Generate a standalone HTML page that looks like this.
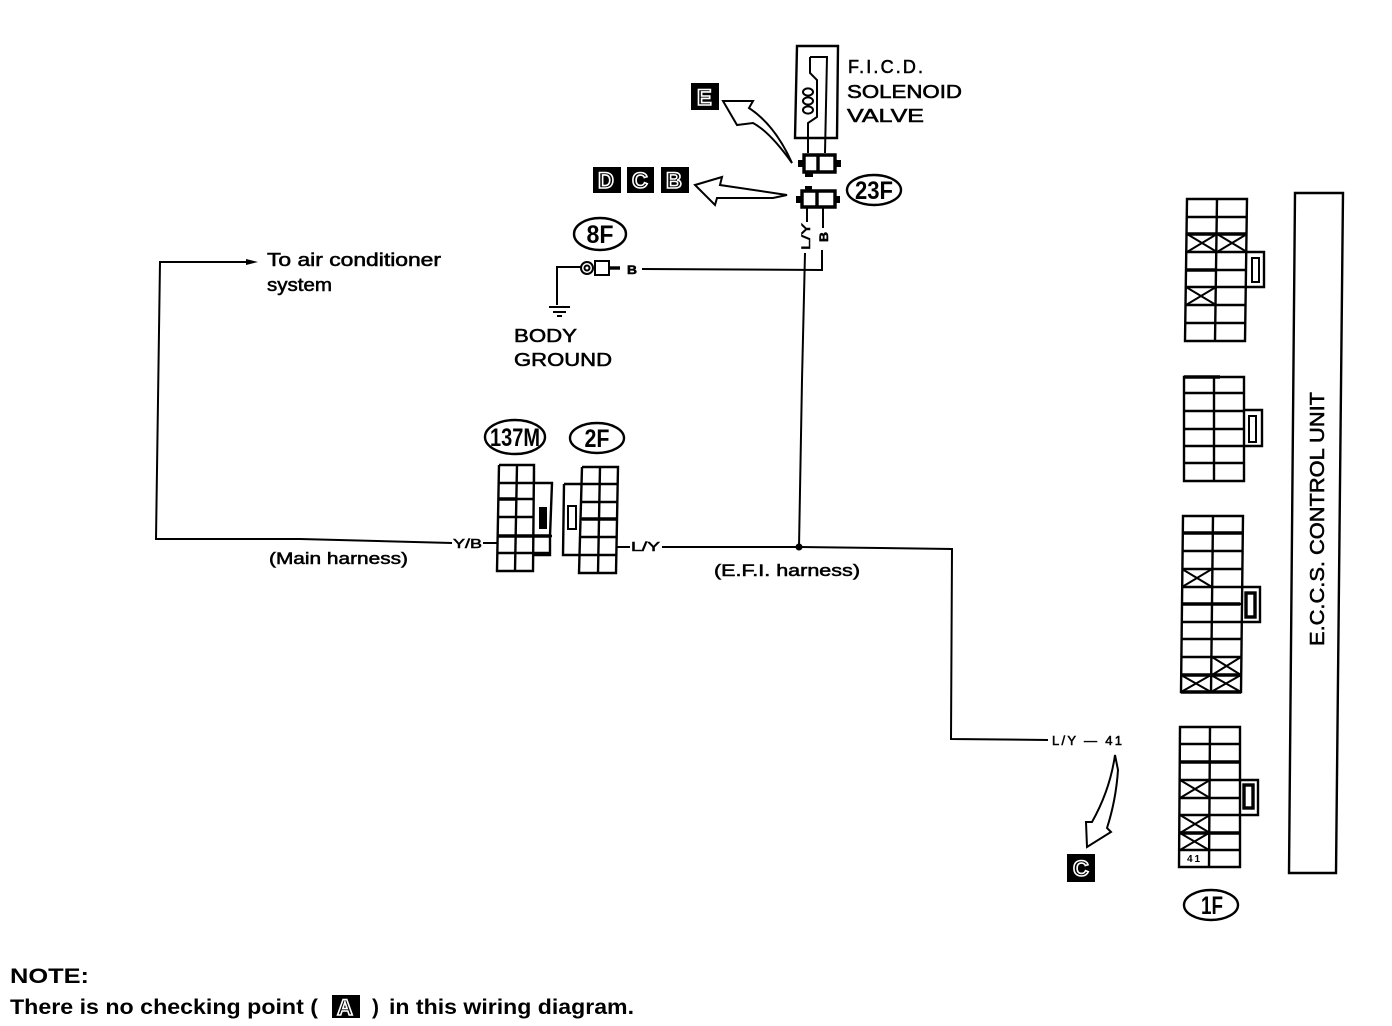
<!DOCTYPE html>
<html>
<head>
<meta charset="utf-8">
<style>
html,body{margin:0;padding:0;background:#fff;width:1392px;height:1026px;overflow:hidden}
svg{display:block}
text{font-family:"Liberation Sans",sans-serif;fill:#000}
.l{fill:none;stroke:#000;stroke-width:2.4}
.w{fill:none;stroke:#000;stroke-width:2}
.t{fill:none;stroke:#000;stroke-width:3.4}
.s{stroke:#000;stroke-width:.55}
.o{fill:#000!important;stroke:#fff;stroke-width:1.6;font-weight:bold}
</style>
</head>
<body>
<svg width="1392" height="1026" viewBox="0 0 1392 1026" xmlns="http://www.w3.org/2000/svg">
<rect width="1392" height="1026" fill="#fff"/>

<!-- wires -->
<path class="w" d="M250 262H160L156 539H300L452 543"/>
<path d="M258 262l-12-3v6z"/>
<path class="w" d="M483 543H497M617 547H630M662 547H800L952 549L951 739L1048 740"/>
<path class="w" d="M805 253L802 380L799 547"/>
<path class="w" d="M642 269L822 270V250"/>
<circle cx="799" cy="547" r="3.5"/>
<path class="w" d="M582 267H557V305M549 307H570M553 312H566M557 316H562"/>

<!-- solenoid -->
<path class="l" d="M797 46H838L837 138H795Z"/>
<path class="w" d="M810 57H827L825 153M810 57V73L817 80V117L808 123V153"/>
<g class="w"><ellipse cx="808" cy="92" rx="5" ry="3.6"/><ellipse cx="808" cy="101" rx="5" ry="3.6"/><ellipse cx="808" cy="110" rx="5" ry="3.6"/></g>
<path class="t" d="M804 155H835V172H804ZM818 155V172"/>
<path d="M798 160h6v7h-6zM835 160h6v7h-6zM805 172h8v5h-8z"/>
<path class="t" d="M802 191H835V207H802ZM817 191V207"/>
<path d="M796 196h6v7h-6zM835 196h5v7h-5zM805 186h7v5h-7z"/>
<path class="w" d="M807 207V222M823 207V228"/>

<!-- 8F plug -->
<circle class="w" cx="587" cy="268" r="6"/>
<circle class="w" cx="587" cy="268" r="2.5"/>
<rect class="w" x="595" y="261" width="14" height="14"/>
<path class="t" d="M609 268H620"/>

<!-- hollow arrows -->
<path class="w" d="M723 101H753L749 108Q775 125 792 163Q770 132 753 123L737 125Z"/>
<path class="w" d="M695 185L722 177L720 185L787 195L773 198H717L715 205Z"/>
<path class="w" d="M1115 755L1118 770Q1116 800 1107 828L1111 832L1087 847L1086 822H1092Q1110 790 1115 755Z"/>

<!-- letter boxes -->
<rect x="691" y="83" width="28" height="27"/>
<rect x="593" y="167" width="28" height="26"/>
<rect x="627" y="167" width="27" height="26"/>
<rect x="661" y="167" width="28" height="26"/>
<rect x="1067" y="854" width="28" height="28"/>
<rect x="332" y="995" width="28" height="23"/>
<text class="o" x="697" y="105" font-size="22">E</text>
<text class="o" x="598" y="188" font-size="22">D</text>
<text class="o" x="632" y="188" font-size="22">C</text>
<text class="o" x="666" y="188" font-size="22">B</text>
<text class="o" x="1073" y="876" font-size="22">C</text>
<text class="o" x="337" y="1015" font-size="22">A</text>

<!-- ovals -->
<g class="l">
<ellipse cx="874" cy="190" rx="27" ry="15"/>
<ellipse cx="600" cy="234" rx="26" ry="16"/>
<ellipse cx="515" cy="437" rx="30" ry="17"/>
<ellipse cx="597" cy="438" rx="27" ry="15"/>
<ellipse cx="1211" cy="905" rx="27" ry="15"/>
</g>
<g font-weight="bold" font-size="25" text-anchor="middle">
<text x="874" y="199" textLength="38" lengthAdjust="spacingAndGlyphs">23F</text>
<text x="600" y="243" textLength="27" lengthAdjust="spacingAndGlyphs">8F</text>
<text x="515" y="446" textLength="50" lengthAdjust="spacingAndGlyphs">137M</text>
<text x="597" y="447" textLength="25" lengthAdjust="spacingAndGlyphs">2F</text>
<text x="1212" y="914" textLength="22" lengthAdjust="spacingAndGlyphs">1F</text>
</g>

<!-- 137M -->
<path class="l" d="M499 465H534V483M499 465L497 571H533L534 465M517 465L515 571M499 483H552L550 536V555H533M498 499H534M498 517H534M497 536H552M497 553H550"/>
<path class="t" d="M498 499H517M497 536H550"/>
<rect x="539" y="507" width="8" height="22"/>
<!-- 2F -->
<path class="l" d="M582 467H618L616 573H579L582 467M600 467L598 573M564 484H618M564 484L563 555H616M581 502H617M581 519H617M580 537H616"/>
<path class="t" d="M582 519H616"/>
<rect class="w" x="568" y="506" width="8" height="23"/>

<!-- ECU connector 1 -->
<path class="l" d="M1187 199H1247L1245 341H1185ZM1217 199L1215 341M1187 217H1247M1187 234H1247M1187 252H1247M1186 270H1246M1186 287H1246M1186 305H1246M1185 323H1245"/>
<path class="t" d="M1186 270H1217M1187 234H1247"/>
<path class="w" d="M1187 234L1217 252M1217 234L1187 252M1217 234L1247 252M1247 234L1217 252M1186 287L1216 305M1216 287L1186 305"/>
<path class="l" d="M1247 252H1264V287H1246"/>
<rect class="w" x="1252" y="258" width="7" height="24"/>

<!-- ECU connector 2 -->
<path class="l" d="M1184 377H1244V481H1184ZM1214 377V481M1184 393H1244M1184 411H1244M1184 429H1244M1184 446H1244M1184 463H1244"/>
<path class="t" d="M1184 377H1220"/>
<path class="l" d="M1244 410H1262V446H1244"/>
<rect class="w" x="1249" y="416" width="7" height="26"/>

<!-- ECU connector 3 -->
<path class="l" d="M1183 516H1243L1241 692H1181ZM1213 516L1211 692M1183 533H1243M1183 551H1243M1182 569H1243M1182 587H1242M1182 604H1242M1182 622H1242M1182 639H1242M1181 657H1241M1181 675H1241"/>
<path class="t" d="M1183 533H1243M1182 604H1240M1181 675H1241M1181 692H1241"/>
<path class="w" d="M1182 569L1212 587M1212 569L1182 587M1212 657L1241 675M1241 657L1212 675M1181 675L1211 692M1211 675L1181 692M1211 675L1241 692M1241 675L1211 692"/>
<path class="l" d="M1243 587H1260V622H1242"/>
<rect class="t" x="1246" y="593" width="9" height="24"/>

<!-- ECU connector 4 -->
<path class="l" d="M1180 727H1240V867H1179ZM1210 727L1209 867M1180 744H1240M1180 762H1240M1180 780H1240M1180 798H1240M1180 815H1240M1180 833H1239M1179 850H1239"/>
<path class="t" d="M1180 762H1240M1180 833H1239"/>
<path class="w" d="M1180 780L1210 798M1210 780L1180 798M1180 815L1210 833M1210 815L1180 833M1180 833L1209 850M1209 833L1180 850"/>
<path class="l" d="M1240 780H1258V815H1240"/>
<rect class="t" x="1244" y="785" width="9" height="23"/>
<text x="1187" y="862" font-size="10" font-weight="bold" textLength="13">41</text>

<!-- ECU box -->
<path class="l" d="M1295 193H1343L1336 873H1289Z"/>
<text transform="translate(1324 646) rotate(-90)" font-size="20" class="s" textLength="254" lengthAdjust="spacingAndGlyphs">E.C.C.S. CONTROL UNIT</text>

<!-- labels -->
<g class="s">
<text x="848" y="73" font-size="18" textLength="75">F.I.C.D.</text>
<text x="847" y="98" font-size="18" textLength="115" lengthAdjust="spacingAndGlyphs">SOLENOID</text>
<text x="847" y="122" font-size="18" textLength="77" lengthAdjust="spacingAndGlyphs">VALVE</text>
<text x="267" y="266" font-size="18" textLength="174" lengthAdjust="spacingAndGlyphs">To air conditioner</text>
<text x="267" y="291" font-size="18" textLength="65" lengthAdjust="spacingAndGlyphs">system</text>
<text x="514" y="342" font-size="18" textLength="63" lengthAdjust="spacingAndGlyphs">BODY</text>
<text x="514" y="366" font-size="18" textLength="98" lengthAdjust="spacingAndGlyphs">GROUND</text>
<text x="269" y="564" font-size="17" textLength="139" lengthAdjust="spacingAndGlyphs">(Main harness)</text>
<text x="714" y="576" font-size="17" textLength="146" lengthAdjust="spacingAndGlyphs">(E.F.I. harness)</text>
<text x="453" y="548" font-size="13" textLength="29" lengthAdjust="spacingAndGlyphs">Y/B</text>
<text x="631" y="551" font-size="13" textLength="29" lengthAdjust="spacingAndGlyphs">L/Y</text>
<text x="1052" y="745" font-size="13" textLength="70">L/Y — 41</text>
<text x="627" y="274" font-size="12" font-weight="bold" textLength="10" lengthAdjust="spacingAndGlyphs">B</text>
<text transform="translate(810 250) rotate(-90)" font-size="12" textLength="27" lengthAdjust="spacingAndGlyphs">L/Y</text>
<text transform="translate(828 242) rotate(-90)" font-size="12" font-weight="bold" textLength="10" lengthAdjust="spacingAndGlyphs">B</text>
</g>
<text x="10" y="983" font-size="21" font-weight="bold" textLength="79" lengthAdjust="spacingAndGlyphs">NOTE:</text>
<text x="10" y="1014" font-size="21" font-weight="bold" textLength="308" lengthAdjust="spacingAndGlyphs">There is no checking point (</text>
<text x="372" y="1014" font-size="21" font-weight="bold">)</text>
<text x="389" y="1014" font-size="21" font-weight="bold" textLength="245" lengthAdjust="spacingAndGlyphs">in this wiring diagram.</text>
</svg>
</body>
</html>
